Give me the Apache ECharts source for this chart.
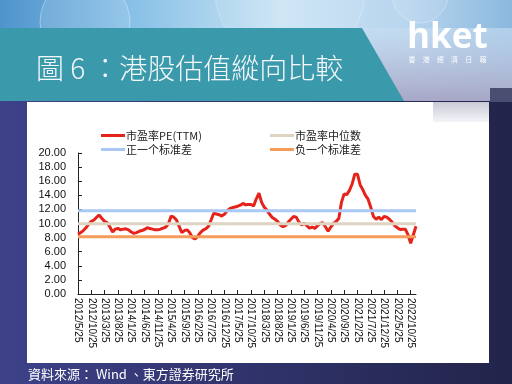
<!DOCTYPE html>
<html><head><meta charset="utf-8">
<script src="https://cdn.jsdelivr.net/npm/echarts@6/dist/echarts.min.js"></script>
<style>html,body{margin:0;padding:0;background:#2f3268;}#c{width:512px;height:384px;}</style>
</head><body><div id="c"></div>
<script>
// ---- data ----
var startYear = 2012, startMonth = 5, monthCount = 128;
var categories = [];
for (var i = 0; i < monthCount; i++) {
  var mm = startMonth - 1 + i;
  categories.push((startYear + Math.floor(mm / 12)) + '/' + (mm % 12 + 1) + '/25');
}
var peValues = [
  8.5, 8.7, 9.0, 9.4, 9.9, 10.3, 10.5, 10.9, 11.2, 10.7,
  10.3, 10.1, 9.5, 8.8, 9.2, 9.3, 9.1, 9.2, 9.25, 9.1,
  8.8, 8.6, 8.7, 8.9, 9.0, 9.15, 9.4, 9.3, 9.2, 9.1,
  9.1, 9.2, 9.35, 9.5, 10.0, 11.05, 10.9, 10.5, 9.6, 8.7,
  9.0, 9.1, 8.7, 8.0, 7.8, 8.2, 8.7, 9.05, 9.25, 9.6,
  10.5, 11.45, 11.35, 11.25, 11.05, 11.3, 11.8, 12.1, 12.25, 12.35,
  12.45, 12.6, 12.85, 12.65, 12.7, 12.7, 12.5, 13.5, 14.3, 13.0,
  12.3, 11.9, 11.3, 10.85, 10.6, 10.3, 9.8, 9.55, 9.7, 10.2,
  10.6, 11.0, 10.9, 10.2, 9.8, 10.05, 9.7, 9.35, 9.5, 9.3,
  9.7, 10.0, 10.1, 9.5, 8.9, 9.5, 10.0, 10.3, 10.7, 13.0,
  14.2, 14.1, 14.7, 15.6, 17.0, 17.0, 15.5, 14.8, 14.0, 13.45,
  12.3, 11.0, 10.6, 10.9, 10.55, 11.0, 10.9, 10.6, 10.2, 9.7,
  9.4, 9.15, 9.2, 9.2, 8.4, 7.2, 8.4, 9.6
];
var medianValue = 9.97;
var plusSdValue = 11.80;
var minusSdValue = 8.13;
var yTicks = { min: 0, max: 20, interval: 2 };
var seriesNames = ['市盈率PE(TTM)', '市盈率中位数', '正一个标准差', '负一个标准差'];
var titleText = '圖 6 ：港股估值縱向比較';
var sourceText = '資料來源： Wind 、東方證券研究所';

// ---- chart ----
var chart = echarts.init(document.getElementById('c'), null, { renderer: 'canvas' });
function flat(v) { return [[categories[0], v], [categories[categories.length - 1], v]]; }

var brandChars = ['香', '港', '經', '濟', '日', '報'];
var graphics = [
  { type: 'rect', z: -10, shape: { x: 0, y: 0, width: 512, height: 384 },
    style: { fill: new echarts.graphic.LinearGradient(0, 0, 1, 0, [
      { offset: 0, color: '#3d4188' }, { offset: 0.5, color: '#30336a' }, { offset: 1, color: '#22244a' }]) } },
  { type: 'rect', z: -9, shape: { x: 0, y: 0, width: 512, height: 101 },
    style: { fill: new echarts.graphic.LinearGradient(0, 0, 1, 0, [
      { offset: 0, color: '#4e94cc' }, { offset: 0.25, color: '#86bfe6' }, { offset: 0.55, color: '#cbe4f4' },
      { offset: 0.8, color: '#b7d5ee' }, { offset: 1, color: '#8cb8de' }]) } },
  { type: 'rect', z: -8, shape: { x: 360, y: 28, width: 152, height: 73 },
    style: { fill: new echarts.graphic.LinearGradient(0, 0, 0, 1, [
      { offset: 0, color: 'rgba(200,222,242,0.6)' }, { offset: 1, color: '#a7a6c6' }]) } },
  { type: 'rect', z: -7, shape: { x: 490, y: 88, width: 22, height: 14 }, style: { fill: '#4a4f72' } },
  { type: 'circle', z: -7, shape: { cx: 85, cy: 22, r: 45 }, style: { fill: 'rgba(255,255,255,0.12)', stroke: 'rgba(255,255,255,0.35)', lineWidth: 1 } },
  { type: 'circle', z: -7, shape: { cx: 290, cy: -10, r: 75 }, style: { fill: 'rgba(255,255,255,0.08)', stroke: 'rgba(255,255,255,0.25)', lineWidth: 1 } },
  { type: 'circle', z: -7, shape: { cx: 420, cy: -5, r: 28 }, style: { fill: 'rgba(255,255,255,0.10)', stroke: 'rgba(255,255,255,0.3)', lineWidth: 1 } },
  { type: 'polygon', z: -6, shape: { points: [[0, 28], [362, 28], [404, 101], [0, 101]] }, style: { fill: '#3a99ab' } },
  { type: 'rect', z: -5, shape: { x: 27, y: 102, width: 462, height: 261 }, style: { fill: '#ffffff' } },
  { type: 'rect', z: -4, shape: { x: 433, y: 102, width: 56, height: 20 },
    style: { fill: new echarts.graphic.LinearGradient(0, 0, 0, 1, [
      { offset: 0, color: '#cacad8' }, { offset: 1, color: '#f4f4f8' }]) } },
  { type: 'text', z: 10, x: 36, y: 68, style: { text: titleText, fill: '#f4f8fa', font: '300 28px "Noto Sans CJK TC"', textVerticalAlign: 'middle' } },
  { type: 'text', z: 10, x: 407, y: 38, style: { text: 'hket', fill: '#ffffff', font: 'bold 35px "Open Sans", "Liberation Sans", sans-serif', textVerticalAlign: 'middle' } },
  { type: 'text', z: 10, x: 28, y: 374, style: { text: sourceText, fill: '#ffffff', font: '13px "Noto Sans CJK TC"', textVerticalAlign: 'middle' } }
];
for (var k = 0; k < brandChars.length; k++) {
  graphics.push({ type: 'text', z: 10, x: 412 + k * 14.2, y: 59,
    style: { text: brandChars[k], fill: '#ffffff', font: '7px "Noto Sans CJK TC"', textAlign: 'center', textVerticalAlign: 'middle' } });
}

var legendCommon = {
  orient: 'vertical', icon: 'rect', itemWidth: 24, itemHeight: 3, itemGap: 1,
  textStyle: { fontSize: 11, color: '#222', fontFamily: '"Noto Sans CJK SC", sans-serif', lineHeight: 13, padding: [0, 0, 0, -4] }
};

chart.setOption({
  animation: false,
  backgroundColor: 'transparent',
  graphic: graphics,
  legend: [
    Object.assign({ left: 96, top: 124, data: [seriesNames[0], seriesNames[2]] }, legendCommon),
    Object.assign({ left: 265, top: 124, data: [seriesNames[1], seriesNames[3]] }, legendCommon)
  ],
  grid: { left: 78, right: 96, top: 153, bottom: 90 },
  xAxis: {
    type: 'category', data: categories, boundaryGap: false,
    axisLine: { lineStyle: { color: '#222', width: 1 } },
    axisTick: { interval: 4, inside: true, length: 4, lineStyle: { color: '#222' } },
    axisLabel: { interval: 4, rotate: -90, fontSize: 10, color: '#111', margin: 4, fontFamily: '"Liberation Sans", Arial, sans-serif' },
    splitLine: { show: false }
  },
  yAxis: {
    type: 'value', min: yTicks.min, max: yTicks.max, interval: yTicks.interval,
    axisLine: { show: true, lineStyle: { color: '#222', width: 1 } },
    axisTick: { show: true, inside: true, length: 4, lineStyle: { color: '#222' } },
    axisLabel: { fontSize: 11, color: '#111', margin: 12, fontFamily: '"Liberation Sans", Arial, sans-serif',
      formatter: function (v) { return v.toFixed(2); } },
    splitLine: { show: false }
  },
  series: [
    { name: seriesNames[0], type: 'line', data: peValues, symbol: 'none', lineStyle: { color: '#e5231b', width: 3 }, itemStyle: { color: '#e5231b' } },
    { name: seriesNames[1], type: 'line', data: flat(medianValue), symbol: 'none', lineStyle: { color: '#ddd4c2', width: 3 }, itemStyle: { color: '#ddd4c2' } },
    { name: seriesNames[2], type: 'line', data: flat(plusSdValue), symbol: 'none', lineStyle: { color: '#a9c8f3', width: 3 }, itemStyle: { color: '#a9c8f3' } },
    { name: seriesNames[3], type: 'line', data: flat(minusSdValue), symbol: 'none', lineStyle: { color: '#f79b5b', width: 3 }, itemStyle: { color: '#f79b5b' } }
  ]
});
</script></body></html>
